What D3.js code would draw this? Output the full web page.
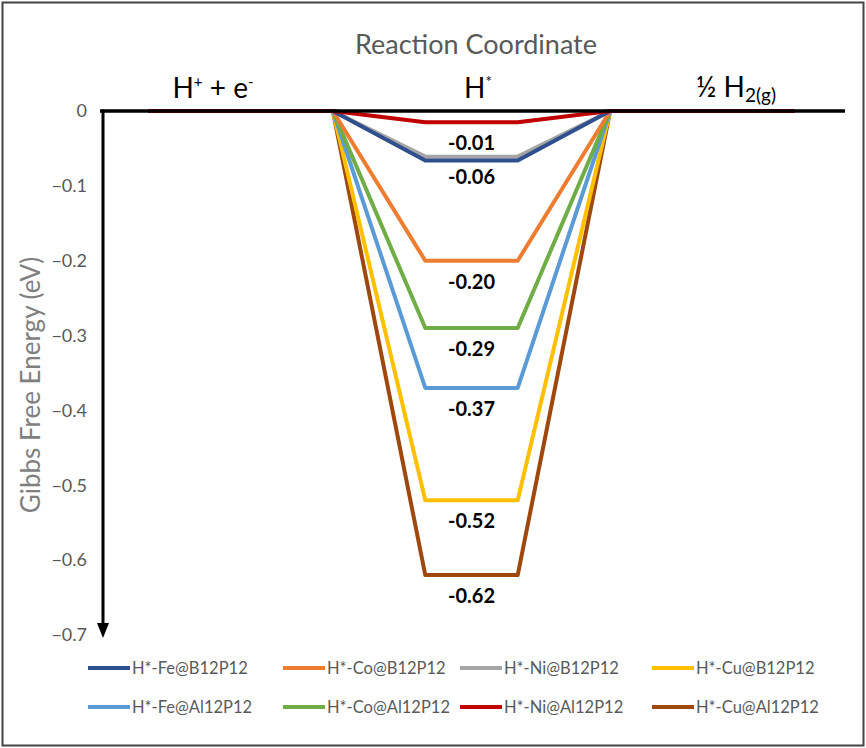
<!DOCTYPE html>
<html><head><meta charset="utf-8">
<script src="https://cdn.jsdelivr.net/npm/d3@7"></script>
<style>body{margin:0;background:#fff;} text{font-family:Lato,"Open Sans",sans-serif;}</style>
</head><body>
<svg id="c" width="866" height="748"></svg>
<script>
// Data
const steps = [0, 2, 3, 4, 5, 7];            // reaction-coordinate positions of path points
const stageLabels = ["H+ + e-", "H*", "½ H2(g)"];
const seriesNames = ["H*-Fe@B12P12","H*-Co@B12P12","H*-Ni@B12P12","H*-Cu@B12P12",
                     "H*-Fe@Al12P12","H*-Co@Al12P12","H*-Ni@Al12P12","H*-Cu@Al12P12"];
const adsorption = [-0.066, -0.20, -0.061, -0.52, -0.37, -0.29, -0.015, -0.62];
const colors = ["#2F4F8F","#ED7D31","#A5A5A5","#FFC000","#5B9BD5","#70AD47","#C00000","#9E480E"];
const valueLabels = ["-0.01","-0.06","-0.20","-0.29","-0.37","-0.52","-0.62"];
const labelValues = [-0.01, -0.06, -0.20, -0.29, -0.37, -0.52, -0.62];
const yTicks = [0,-0.1,-0.2,-0.3,-0.4,-0.5,-0.6,-0.7];

const svg = d3.select("#c");
svg.append("rect").attr("x",2.5).attr("y",2.5).attr("width",861).attr("height",743)
  .attr("fill","none").attr("stroke","#444").attr("stroke-width",2);

const x = d3.scaleLinear().domain([0,7]).range([148,795]);
const y = d3.scaleLinear().domain([0,-0.7]).range([111,635]);

// y axis tick labels
const yAxis = d3.axisLeft(y).tickValues(yTicks).tickSize(0).tickPadding(0)
  .tickFormat(d => d === 0 ? "0" : d3.format(".1f")(d));
const ga = svg.append("g").attr("transform","translate(87,0)").call(yAxis);
ga.select(".domain").remove();
ga.selectAll("text").attr("fill","#595959").attr("font-size",18).attr("font-family","Lato,'Open Sans',sans-serif");

// series paths
const line = d3.line().x(d => x(d[0])).y(d => y(d[1]));
const order = [7,3,4,5,1,2,0,6];
order.forEach(i => {
  const v = adsorption[i];
  const pts = steps.map((s,k) => [s, (k===2||k===3) ? v : 0]);
  svg.append("path").attr("d", line(pts)).attr("fill","none")
    .attr("stroke", colors[i]).attr("stroke-width",4).attr("stroke-linejoin","round");
});

// axes lines
svg.append("line").attr("x1",100).attr("x2",845).attr("y1",y(0)).attr("y2",y(0))
  .attr("stroke","#000").attr("stroke-width",3.5);
const yEnd = y(-0.7);
svg.append("line").attr("x1",103).attr("x2",103).attr("y1",y(0)-1.5).attr("y2",yEnd-10)
  .attr("stroke","#000").attr("stroke-width",3);
svg.append("path").attr("d",`M${103-6},${yEnd-12} L${103+6},${yEnd-12} L103,${yEnd+3} Z`).attr("fill","#000");

// value labels
svg.selectAll(".vl").data(valueLabels).join("text")
  .attr("x", x(3.5)).attr("y", (d,i) => y(labelValues[i]) + (i===0 ? 32 : 28))
  .attr("text-anchor","middle").attr("font-size",20).attr("font-weight","bold").attr("fill","#000")
  .text(d => d);

// titles
svg.append("text").attr("x",476).attr("y",54).attr("text-anchor","middle")
  .attr("font-size",27).attr("fill","#595959").text("Reaction Coordinate");
svg.append("text").attr("transform","translate(40,385) rotate(-90)").attr("text-anchor","middle")
  .attr("font-size",26).attr("fill","#7f7f7f").text("Gibbs Free Energy (eV)");

// stage labels
const stX = [213, 478, 736];
const st0 = svg.append("text").attr("x",stX[0]).attr("y",98).attr("text-anchor","middle").attr("font-size",28).attr("fill","#000");
st0.append("tspan").text("H");
st0.append("tspan").attr("font-size",15).attr("dy",-11).text("+");
st0.append("tspan").attr("dy",11).text(" + e");
st0.append("tspan").attr("font-size",15).attr("dy",-11).text("-");
const st1 = svg.append("text").attr("x",stX[1]).attr("y",98).attr("text-anchor","middle").attr("font-size",28).attr("fill","#000");
st1.append("tspan").text("H");
st1.append("tspan").attr("font-size",15).attr("dy",-11).text("*");
const st2 = svg.append("text").attr("x",stX[2]).attr("y",97).attr("text-anchor","middle").attr("font-size",28).attr("fill","#000");
st2.append("tspan").text("½ H");
st2.append("tspan").attr("font-size",19).attr("dy",5).text("2(g)");

// legend
const legX = [88, 283, 460, 652];
const legY = [668, 707];
seriesNames.forEach((n,i) => {
  const cx = legX[i%4], cy = legY[Math.floor(i/4)];
  svg.append("line").attr("x1",cx).attr("x2",cx+42).attr("y1",cy).attr("y2",cy)
    .attr("stroke",colors[i]).attr("stroke-width",4);
  svg.append("text").attr("x",cx+44).attr("y",cy+6).attr("font-size",16.5).attr("fill","#595959").text(n);
});
</script>
</body></html>
